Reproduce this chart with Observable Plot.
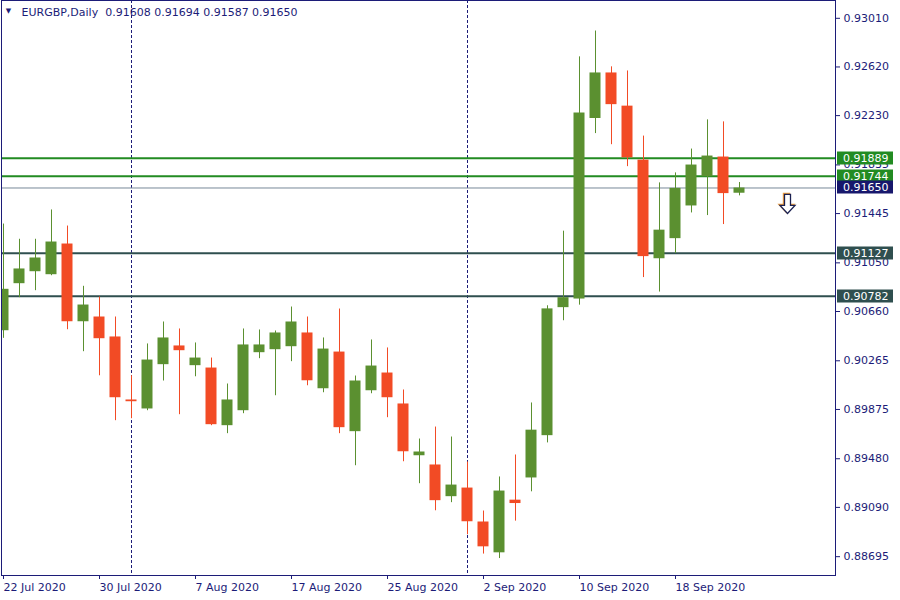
<!DOCTYPE html>
<html><head><meta charset="utf-8">
<script src="https://cdn.jsdelivr.net/npm/d3@7"></script>
<script src="https://cdn.jsdelivr.net/npm/@observablehq/plot@0.6"></script>
<style>html,body{margin:0;padding:0;background:#fff;} #chart svg{display:block}</style>
</head><body><div id="chart"></div>
<script>
const symbol = "EURGBP,Daily";
const dates = ["22 Jul 2020","23 Jul 2020","24 Jul 2020","27 Jul 2020","28 Jul 2020","29 Jul 2020","30 Jul 2020","31 Jul 2020",
"3 Aug 2020","4 Aug 2020","5 Aug 2020","6 Aug 2020","7 Aug 2020","10 Aug 2020","11 Aug 2020","12 Aug 2020","13 Aug 2020","14 Aug 2020",
"17 Aug 2020","18 Aug 2020","19 Aug 2020","20 Aug 2020","21 Aug 2020","24 Aug 2020","25 Aug 2020","26 Aug 2020","27 Aug 2020","28 Aug 2020",
"31 Aug 2020","1 Sep 2020","2 Sep 2020","3 Sep 2020","4 Sep 2020","7 Sep 2020","8 Sep 2020","9 Sep 2020","10 Sep 2020","11 Sep 2020",
"14 Sep 2020","15 Sep 2020","16 Sep 2020","17 Sep 2020","18 Sep 2020","21 Sep 2020","22 Sep 2020","23 Sep 2020","24 Sep 2020"];
const open  = [0.90506,0.90883,0.90979,0.90955,0.91201,0.90578,0.90616,0.90456,0.89951,0.89879,0.90234,0.90384,0.90226,0.90207,0.89745,0.89865,0.90330,0.90354,0.90378,0.90488,0.90041,0.90335,0.89697,0.90025,0.90167,0.89919,0.89504,0.89430,0.89176,0.89245,0.88973,0.88726,0.89148,0.89326,0.89665,0.90691,0.90760,0.92207,0.92572,0.92306,0.91873,0.91083,0.91244,0.91506,0.91740,0.91898,0.91608];
const high  = [0.91361,0.91239,0.91239,0.91474,0.91345,0.90862,0.90776,0.90616,0.90145,0.90400,0.90576,0.90520,0.90408,0.90287,0.90079,0.90520,0.90512,0.90504,0.90696,0.90616,0.90448,0.90680,0.90143,0.90432,0.90368,0.90031,0.89638,0.89734,0.89654,0.89454,0.89061,0.89334,0.89510,0.89927,0.90706,0.91304,0.92701,0.92908,0.92621,0.92588,0.92066,0.91691,0.91771,0.91962,0.92196,0.92180,0.91694];
const low   = [0.90445,0.90771,0.90827,0.90947,0.90514,0.90338,0.90145,0.89785,0.89801,0.89865,0.90103,0.89833,0.90137,0.89745,0.89681,0.89841,0.90282,0.89985,0.90258,0.90065,0.90009,0.89681,0.89424,0.90001,0.89809,0.89456,0.89280,0.89063,0.89128,0.88871,0.88716,0.88680,0.88980,0.89215,0.89607,0.90586,0.90711,0.92086,0.91997,0.91821,0.90932,0.90816,0.91125,0.91450,0.91429,0.91357,0.91587];
const close = [0.90838,0.91001,0.91089,0.91217,0.90578,0.90712,0.90442,0.89969,0.89937,0.90271,0.90448,0.90346,0.90287,0.89753,0.89951,0.90392,0.90392,0.90488,0.90576,0.90105,0.90359,0.89729,0.90103,0.90223,0.89969,0.89536,0.89534,0.89144,0.89269,0.88975,0.88774,0.89221,0.89121,0.89709,0.90681,0.90771,0.92251,0.92572,0.92318,0.91892,0.91100,0.91312,0.91647,0.91834,0.91906,0.91605,0.91650];

const yTicks = [0.93010,0.92620,0.92230,0.91835,0.91445,0.91050,0.90660,0.90265,0.89875,0.89480,0.89090,0.88695];
const tickDates = ["22 Jul 2020","30 Jul 2020","7 Aug 2020","17 Aug 2020","25 Aug 2020","2 Sep 2020","10 Sep 2020","18 Sep 2020"];
const separatorDates = ["3 Aug 2020","1 Sep 2020"];
const levelPrices = [0.91889, 0.91744, 0.91127, 0.90782, 0.91650];
const levelKinds  = ["resistance","resistance","support","support","bid"];
const arrowBar = [49];
const arrowPrice = [0.91522];

const NAVY = "#1c1c78", UP = "#5b9030", DOWN = "#f24b25";
const kindStyle = {
  resistance: {line: "#228b22", width: 2, box: "#228b22"},
  support:    {line: "#2f4f4f", width: 2, box: "#2f4f4f"},
  bid:        {line: "#778899", width: 1, box: "#17176c"}
};

const candles = dates.map((d, i) => ({i, date: d, open: open[i], high: high[i], low: low[i], close: close[i]}));
const levels = levelPrices.map((p, k) => ({price: p, kind: levelKinds[k]}));
const tickIdx = tickDates.map(d => dates.indexOf(d));
const sepIdx = separatorDates.map(d => dates.indexOf(d));
const arrows = arrowBar.map((b, k) => ({bar: b, price: arrowPrice[k]}));
const last = candles[candles.length - 1];
const title = symbol + "\u00a0\u00a0" + [last.open, last.high, last.low, last.close].map(v => v.toFixed(5)).join(" ");
const col = d => d.close >= d.open ? UP : DOWN;
const half = 0.34375;

// outlined down-arrow symbol (hollow), drawn around the point
const downArrow = {
  draw(ctx) {
    ctx.moveTo(-3, -9.5); ctx.lineTo(3, -9.5); ctx.lineTo(3, 1.5); ctx.lineTo(7.5, 1.5);
    ctx.lineTo(0, 9.5); ctx.lineTo(-7.5, 1.5); ctx.lineTo(-3, 1.5); ctx.closePath();
  }
};

const chart = Plot.plot({
  width: 900, height: 600,
  marginLeft: 1, marginRight: 65, marginTop: 0, marginBottom: 25,
  style: {fontFamily: "'DejaVu Sans', sans-serif", fontSize: "11px", color: NAVY, background: "#fff", overflow: "visible"},
  x: {type: "linear", domain: [-0.125, 52], axis: null},
  y: {domain: [0.885442, 0.931527], axis: null},
  marks: [
    Plot.ruleX(sepIdx, {x: d => d, stroke: NAVY, strokeWidth: 1, strokeDasharray: "3,2"}),
    ...["support", "resistance", "bid"].map(k =>
      Plot.ruleY(levels.filter(l => l.kind === k), {y: "price", stroke: kindStyle[k].line, strokeWidth: kindStyle[k].width})),
    Plot.ruleX(candles, {x: "i", y1: "low", y2: "high", stroke: col, strokeWidth: 1, clip: "frame"}),
    Plot.rect(candles, {x1: d => d.i - half, x2: d => d.i + half, y1: "open", y2: "close", fill: col, clip: "frame"}),
    Plot.dot(arrows, {x: "bar", y: "price", symbol: downArrow, r: 5, fill: "none", stroke: "#f0a040", strokeWidth: 1.4, dx: -1, dy: -1}),
    Plot.dot(arrows, {x: "bar", y: "price", symbol: downArrow, r: 5, fill: "#fff", stroke: "#1a2050", strokeWidth: 1.3}),
    Plot.frame({stroke: NAVY, strokeWidth: 1}),
    Plot.axisY({anchor: "right", ticks: yTicks, tickSize: 4, tickPadding: 4, tickFormat: d => d.toFixed(5), label: null, fill: NAVY, stroke: NAVY}),
    Plot.axisX({anchor: "bottom", ticks: tickIdx, tickSize: 4, tickPadding: 4, tickFormat: i => dates[i], textAnchor: "start", label: null, fill: NAVY, stroke: NAVY}),
    Plot.text([title], {frameAnchor: "top-left", dx: 20, dy: 12, textAnchor: "start", lineAnchor: "middle", fill: NAVY}),
    Plot.text(["\u25bc"], {frameAnchor: "top-left", dx: 7, dy: 10.5, textAnchor: "middle", lineAnchor: "middle", fontSize: 7, fill: NAVY})
  ]
});

// price labels on the right axis, placed through the chart's own scales
const ys = chart.scale("y");
const xr = chart.scale("x").range;
const svg = d3.select(chart);
const g = svg.append("g").attr("font-family", "'DejaVu Sans', sans-serif").attr("font-size", 11).attr("text-anchor", "start");
levels.forEach(l => {
  const y = Math.round(ys.apply(l.price)) + 0.5;
  const x0 = xr[1] + 2;
  g.append("rect").attr("x", x0).attr("y", y - 7).attr("width", 56).attr("height", 13).attr("fill", kindStyle[l.kind].box);
  g.append("text").attr("x", x0 + 6).attr("y", y).attr("dy", "0.36em").attr("fill", "#fff").text(l.price.toFixed(5));
});

document.getElementById("chart").appendChild(chart);
</script>
</body></html>
